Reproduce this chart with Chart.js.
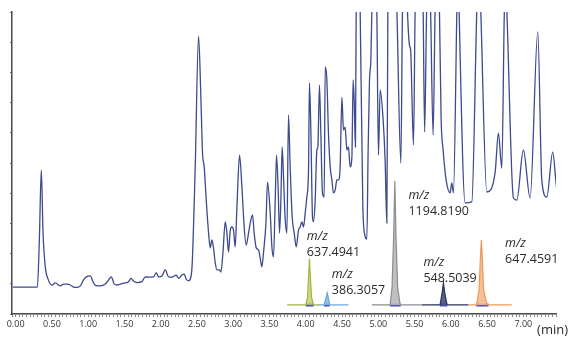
<!DOCTYPE html>
<html>
<head>
<meta charset="utf-8">
<script src="https://cdn.jsdelivr.net/npm/chart.js@4.4.1/dist/chart.umd.min.js"></script>
<style>
  html, body { margin: 0; padding: 0; background: #fff; }
  #wrap { width: 569px; height: 340px; position: relative; }
</style>
</head>
<body>
<div id="wrap"><canvas id="chart-tic"></canvas></div>
<script>
// total ion chromatogram (time in min, signal in axis tick units)
const ticTime = [
  -0.04, 0.30, 0.327, 0.354, 0.378, 0.409, 0.451, 0.502, 0.547, 0.616,
  0.661, 0.708, 0.754, 0.799, 0.846, 0.892, 0.937, 0.974, 1.029, 1.067,
  1.098, 1.167, 1.236, 1.282, 1.319, 1.360, 1.397, 1.488, 1.557, 1.590,
  1.626, 1.673, 1.742, 1.787, 1.833, 1.902, 1.939, 1.971, 2.017, 2.063,
  2.108, 2.155, 2.214, 2.246, 2.293, 2.325, 2.352, 2.384, 2.417, 2.435,
  2.476, 2.522, 2.555, 2.577, 2.600, 2.628, 2.660, 2.683, 2.706, 2.728,
  2.752, 2.775, 2.811, 2.830, 2.858, 2.890, 2.913, 2.935, 2.959, 2.982,
  3.004, 3.027, 3.051, 3.087, 3.120, 3.151, 3.179, 3.211, 3.234, 3.266,
  3.289, 3.317, 3.349, 3.372, 3.395, 3.417, 3.451, 3.473, 3.510, 3.533,
  3.555, 3.579, 3.597, 3.620, 3.638, 3.657, 3.675, 3.693, 3.717, 3.740,
  3.762, 3.785, 3.813, 3.841, 3.868, 3.900, 3.923, 3.947, 3.969, 3.992,
  4.015, 4.038, 4.051, 4.071, 4.093, 4.106, 4.130, 4.153, 4.167, 4.189,
  4.208, 4.230, 4.254, 4.268, 4.291, 4.313, 4.337, 4.360, 4.382, 4.406,
  4.429, 4.451, 4.474, 4.498, 4.520, 4.543, 4.567, 4.589, 4.612, 4.636,
  4.653, 4.667, 4.685, 4.695, 4.722, 4.750, 4.787, 4.818, 4.842, 4.860,
  4.878, 4.887, 4.897, 4.911, 4.946, 4.980, 5.002, 5.026, 5.067, 5.094,
  5.118, 5.132, 5.191, 5.256, 5.311, 5.333, 5.367, 5.402, 5.429, 5.446,
  5.485, 5.508, 5.563, 5.618, 5.639, 5.666, 5.694, 5.721, 5.756, 5.783,
  5.811, 5.843, 5.866, 5.894, 5.935, 5.990, 6.014, 6.036, 6.083, 6.098,
  6.114, 6.197, 6.289, 6.358, 6.386, 6.413, 6.496, 6.610, 6.656, 6.703,
  6.738, 6.755, 6.772, 6.863, 6.910, 7.000, 7.093, 7.199, 7.254, 7.323,
  7.405, 7.461, 7.483
];
const ticSignal = [
  0.89, 0.89, 2.45, 4.77, 2.68, 1.56, 1.13, 0.96, 1.03, 0.93,
  0.99, 0.99, 0.96, 0.89, 0.88, 0.93, 1.13, 1.23, 1.26, 1.07,
  0.95, 0.93, 0.99, 1.13, 1.23, 0.99, 0.96, 1.02, 1.07, 1.18,
  1.09, 1.04, 1.07, 1.23, 1.22, 1.23, 1.37, 1.23, 1.26, 1.46,
  1.23, 1.22, 1.29, 1.18, 1.29, 1.32, 1.15, 1.10, 1.23, 1.69,
  4.87, 9.20, 7.09, 5.33, 4.87, 3.77, 2.68, 2.19, 2.45, 2.19,
  1.69, 1.46, 1.46, 1.39, 2.02, 3.05, 2.68, 2.05, 2.78, 2.88,
  2.78, 2.22, 3.54, 5.26, 4.20, 2.88, 2.28, 2.68, 3.01, 3.28,
  2.68, 2.19, 2.12, 1.85, 1.56, 2.02, 3.01, 4.37, 3.34, 2.22,
  1.89, 3.77, 5.26, 4.11, 2.68, 3.77, 5.53, 4.54, 3.11, 2.68,
  6.59, 4.87, 3.21, 2.68, 2.22, 2.78, 2.88, 3.05, 2.88, 3.34,
  3.87, 4.77, 7.65, 5.99, 3.21, 3.05, 3.77, 5.43, 5.53, 7.58,
  5.99, 4.01, 3.87, 8.18, 7.75, 5.99, 4.87, 4.44, 4.01, 4.11,
  4.44, 4.44, 4.87, 7.18, 6.09, 6.19, 5.43, 5.53, 4.87, 5.20,
  7.75, 7.09, 5.53, 10.05, 12, 10.05, 3.54, 2.58, 2.48, 5.43,
  7.68, 8.08, 8.34, 10.05, 14, 10.05, 5.26, 7.42, 6.42, 5.10,
  3.01, 10.05, 14, 10.05, 5.00, 10.05, 13, 10.05, 8.91, 8.74,
  5.60, 10.05, 13, 10.05, 6.03, 10.05, 12, 10.05, 5.93, 10.05,
  12, 10.05, 6.49, 5.43, 4.44, 4.01, 4.34, 4.01, 10.05, 12,
  10.05, 3.68, 3.71, 10.05, 12, 10.05, 4.04, 4.67, 5.99, 4.83,
  10.05, 11, 10.05, 3.84, 3.77, 5.43, 3.84, 9.34, 4.44, 3.87,
  5.36, 4.17, 4.11
];

// extracted ion traces drawn under the TIC
const xicBase = 0.3;
const greenTime = [3.744, 4.00, 4.025, 4.04, 4.051, 4.062, 4.08, 4.106, 4.171];
const greenSignal = [0.3, 0.3, 0.55, 1.3, 1.84, 1.3, 0.55, 0.3, 0.3];
const blueTime = [4.16, 4.254, 4.28, 4.295, 4.31, 4.33, 4.589];
const blueSignal = [0.3, 0.3, 0.55, 0.7, 0.55, 0.3, 0.3];
const greyTime = [4.911, 5.163, 5.19, 5.212, 5.228, 5.244, 5.266, 5.301, 5.600];
const greySignal = [0.3, 0.3, 0.9, 2.6, 4.40, 2.6, 0.9, 0.3, 0.3];
const navyTime = [5.600, 5.852, 5.88, 5.898, 5.916, 5.948, 6.242];
const navySignal = [0.3, 0.3, 0.7, 1.03, 0.7, 0.3, 0.3];
const orangeTime = [6.242, 6.355, 6.39, 6.408, 6.421, 6.434, 6.452, 6.50, 6.840];
const orangeSignal = [0.3, 0.3, 0.8, 1.9, 2.45, 1.9, 0.8, 0.3, 0.3];

// integrated regions under each peak
const markStart = [4.00, 4.25, 5.16, 5.85, 6.35];
const markEnd = [4.11, 4.33, 5.31, 5.95, 6.52];

// m/z annotations
const xicLabelTime = [4.015, 4.36, 5.416, 5.622, 6.748];
const xicLabelLevel = [2.58, 1.32, 3.91, 1.72, 2.35];
const xicLabelMass = ['637.4941', '386.3057', '1194.8190', '548.5039', '647.4591'];

const toPoints = (xs, ys) => xs.map((x, i) => ({ x: x, y: ys[i] }));

function xicSet(xs, ys, stroke, fillColor) {
  return {
    data: toPoints(xs, ys),
    borderColor: stroke,
    backgroundColor: fillColor,
    borderWidth: 1.2,
    fill: { value: xicBase },
    tension: 0,
    pointRadius: 0
  };
}

const markPoints = [];
markStart.forEach((s, i) => {
  markPoints.push({ x: s, y: xicBase }, { x: markEnd[i], y: xicBase }, { x: markEnd[i], y: null });
});

const labelPlugin = {
  id: 'mzLabels',
  afterDatasetsDraw(chart) {
    const ctx = chart.ctx;
    const xs = chart.scales.x, ys = chart.scales.y;
    ctx.save();
    ctx.fillStyle = '#2b2b2b';
    ctx.textAlign = 'left';
    ctx.textBaseline = 'middle';
    xicLabelTime.forEach((t, i) => {
      const px = xs.getPixelForValue(t);
      const py = ys.getPixelForValue(xicLabelLevel[i]);
      ctx.font = 'italic 12.5px "Open Sans"';
      ctx.fillText('m/z', px, py);
      ctx.font = '12.5px "Open Sans"';
      ctx.fillText(xicLabelMass[i], px, py + 16);
    });
    // axis unit
    ctx.font = '13px "Open Sans"';
    ctx.textAlign = 'right';
    ctx.fillText('(min)', chart.width - 1, chart.chartArea.bottom + 16);
    ctx.restore();
  }
};

const ctx = document.getElementById('chart-tic').getContext('2d');
const ticChart = new Chart(ctx, {
  type: 'line',
  data: {
    datasets: [
      xicSet(greenTime, greenSignal, '#a3b63c', 'rgba(190,205,110,0.8)'),
      xicSet(blueTime, blueSignal, '#6fa6dc', 'rgba(140,185,230,0.9)'),
      xicSet(greyTime, greySignal, '#8c8c96', 'rgba(185,185,185,0.9)'),
      xicSet(navyTime, navySignal, '#2b3358', 'rgba(70,80,125,0.9)'),
      xicSet(orangeTime, orangeSignal, '#eb9a5c', 'rgba(245,185,140,0.9)'),
      {
        data: markPoints,
        borderColor: '#4e52b8',
        borderWidth: 3,
        spanGaps: false,
        pointRadius: 0,
        fill: false
      },
      {
        data: toPoints(ticTime, ticSignal),
        borderColor: '#3d4a8e',
        borderWidth: 1.3,
        cubicInterpolationMode: 'monotone',
        pointRadius: 0,
        fill: false
      }
    ]
  },
  options: {
    responsive: true,
    maintainAspectRatio: false,
    animation: false,
    devicePixelRatio: 1,
    layout: { padding: { top: 12, right: 13, left: 0, bottom: 0 } },
    plugins: { legend: { display: false }, tooltip: { enabled: false } },
    scales: {
      x: {
        type: 'linear',
        min: -0.05,
        max: 7.45,
        border: { display: true, color: '#4a4a4a', width: 1.5 },
        grid: { drawOnChartArea: false, tickLength: 3, color: '#666', lineWidth: 0.8 },
        ticks: {
          stepSize: 0.05,
          autoSkip: false,
          maxRotation: 0,
          minRotation: 0,
          padding: 2,
          color: '#333',
          font: { family: 'Open Sans', size: 9 },
          callback: function(v) {
            const half = v * 2;
            if (v >= 0 && v <= 7.0001 && Math.abs(half - Math.round(half)) < 1e-6) {
              return v.toFixed(2);
            }
            return '';
          }
        },
        afterFit: function(scale) { scale.height = 26; }
      },
      y: {
        min: 0,
        max: 10,
        border: { display: true, color: '#4a4a4a', width: 1.5 },
        grid: { drawOnChartArea: false, tickLength: 2, color: '#777' },
        ticks: { stepSize: 1, callback: () => '' },
        afterFit: function(scale) { scale.width = 12; }
      }
    }
  },
  plugins: [labelPlugin]
});
</script>
</body>
</html>
